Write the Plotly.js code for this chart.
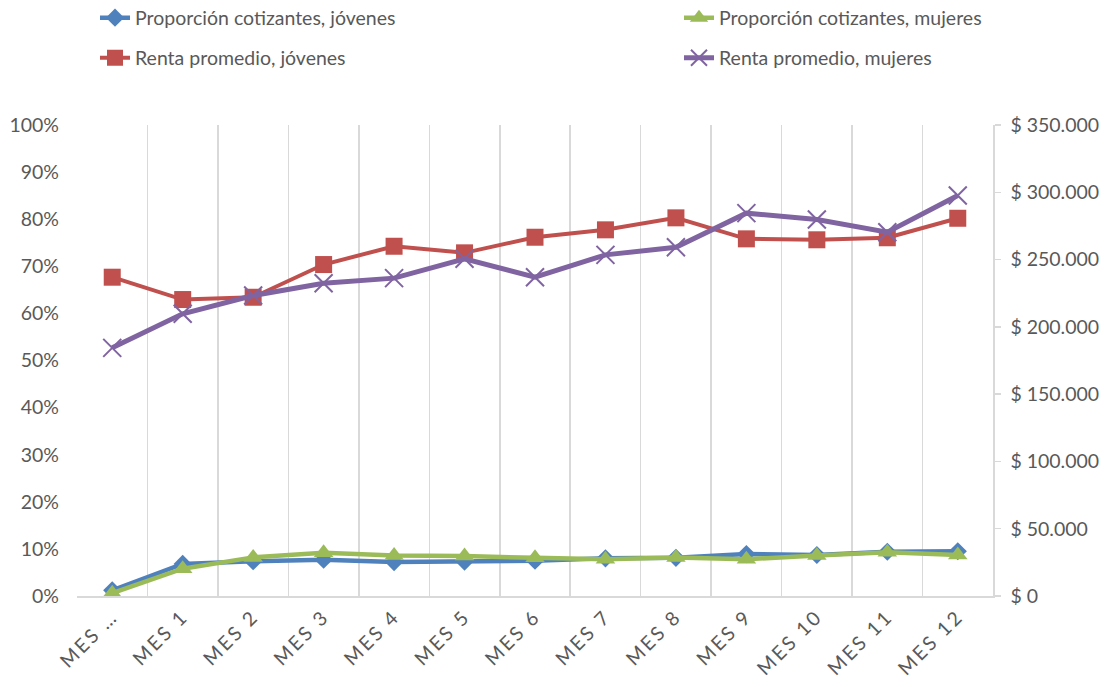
<!DOCTYPE html>
<html>
<head>
<meta charset="utf-8">
<script src="https://cdn.plot.ly/plotly-3.0.1.min.js"></script>
<style>
html,body{margin:0;padding:0;background:#fff;}
#chart{width:1104px;height:687px;}
#chart .xtick text{letter-spacing:2.5px;}
</style>
</head>
<body>
<div id="chart"></div>
<script>
var categories = ["MES …", "MES 1", "MES 2", "MES 3", "MES 4", "MES 5", "MES 6", "MES 7", "MES 8", "MES 9", "MES 10", "MES 11", "MES 12"];
var propJovenes = [0.012, 0.068, 0.074, 0.077, 0.072, 0.073, 0.075, 0.080, 0.081, 0.089, 0.087, 0.094, 0.095];
var propMujeres = [0.006, 0.058, 0.082, 0.092, 0.086, 0.085, 0.081, 0.078, 0.082, 0.078, 0.086, 0.093, 0.087];
var rentaJovenes = [236900, 220300, 222000, 246300, 259900, 255000, 266600, 272100, 281000, 265400, 264700, 266200, 280700];
var rentaMujeres = [184400, 209700, 223300, 232400, 236200, 250600, 236900, 253500, 259200, 284500, 279800, 270300, 297600];

var gray = "#595959";
var fnt = "Lato, 'Open Sans', sans-serif";
var fs = 19.5;

var data = [
  {x: categories, y: propJovenes, name: "Proporción cotizantes, jóvenes", type: "scatter", mode: "lines+markers",
   line: {color: "#4F81BD", width: 4.5}, marker: {symbol: "diamond", size: 14, color: "#4F81BD"}, yaxis: "y", legend: "legend"},
  {x: categories, y: propMujeres, name: "Proporción cotizantes, mujeres", type: "scatter", mode: "lines+markers",
   line: {color: "#9BBB59", width: 4.5}, marker: {symbol: "triangle-up", size: 17, color: "#9BBB59"}, yaxis: "y", legend: "legend2"},
  {x: categories, y: rentaJovenes, name: "Renta promedio, jóvenes", type: "scatter", mode: "lines+markers",
   line: {color: "#C0504D", width: 4}, marker: {symbol: "square", size: 17, color: "#C0504D"}, yaxis: "y2", legend: "legend3"},
  {x: categories, y: rentaMujeres, name: "Renta promedio, mujeres", type: "scatter", mode: "lines+markers",
   line: {color: "#8064A2", width: 5}, marker: {symbol: "x-thin-open", size: 18, color: "#8064A2", line: {width: 2, color: "#8064A2"}}, yaxis: "y2", legend: "legend4"}
];

function leg(px, py) {
  return {
    xref: "container", yref: "container", x: px / 1104, y: 1 - py / 687,
    xanchor: "left", yanchor: "middle", orientation: "h",
    font: {family: fnt, size: fs, color: gray}, bgcolor: "rgba(0,0,0,0)", itemclick: false
  };
}

var layout = {
  width: 1104, height: 687,
  margin: {l: 77, r: 111, t: 125, b: 91},
  paper_bgcolor: "#ffffff", plot_bgcolor: "#ffffff",
  separators: ",.",
  font: {family: fnt, size: fs, color: gray},
  showlegend: true,
  xaxis: {
    type: "category", range: [-0.5, 12.5], tickson: "boundaries",
    showgrid: true, gridcolor: "#d9d9d9", gridwidth: 1.5,
    showline: true, linecolor: "#d9d9d9", linewidth: 1.5,
    ticks: "", tickangle: -45, tickfont: {family: fnt, size: fs, color: gray},
    zeroline: false, automargin: false
  },
  yaxis: {
    range: [0, 1], dtick: 0.1, tickformat: ".0%", showgrid: false, zeroline: false,
    showline: false, ticks: "", tickfont: {family: fnt, size: fs, color: gray},
    ticklabelstandoff: 17, automargin: false
  },
  yaxis2: {
    overlaying: "y", side: "right", range: [0, 350000], dtick: 50000,
    tickprefix: "$ ", tickformat: ",d", showgrid: false, zeroline: false,
    showline: true, linecolor: "#d9d9d9", linewidth: 1.5,
    ticks: "outside", ticklen: 6, tickcolor: "#d9d9d9", tickwidth: 1.5,
    tickfont: {family: fnt, size: fs, color: gray}, ticklabelstandoff: 6, automargin: false
  },
  legend: leg(95, 18),
  legend2: leg(679, 18),
  legend3: leg(95, 58),
  legend4: leg(679, 58)
};

Plotly.newPlot("chart", data, layout, {displayModeBar: false, staticPlot: true});
</script>
</body>
</html>
